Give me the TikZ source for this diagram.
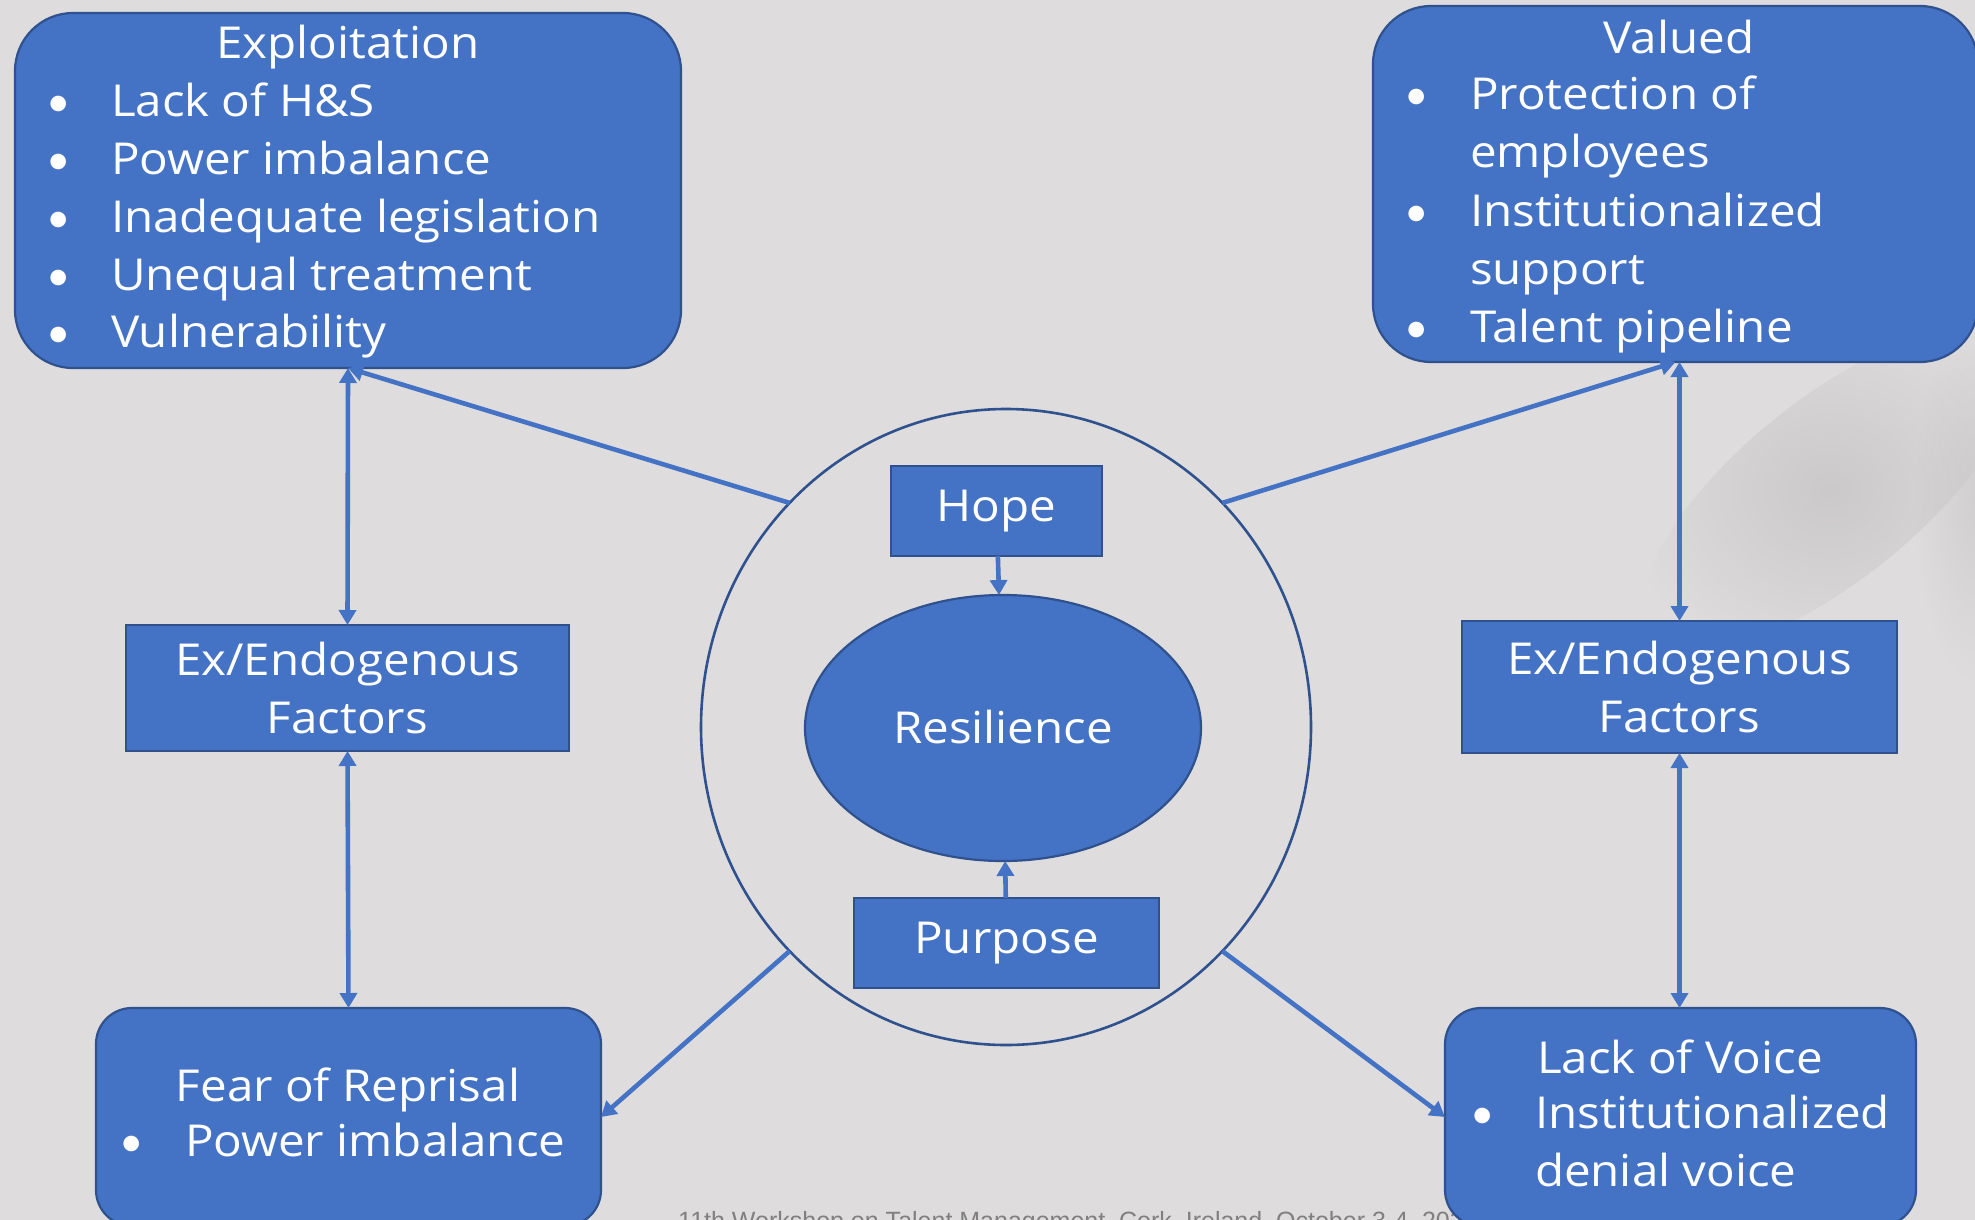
\documentclass[tikz,border=0pt]{standalone}
\usepackage{fontspec}
\setmainfont{Open Sans}[FakeStretch=1.08]
\newfontfamily\dotfont{Lato}
\newfontfamily\footfont{Liberation Sans}
\usetikzlibrary{positioning, arrows.meta, shapes.geometric, fadings}
\definecolor{boxblue}{RGB}{68,114,196}
\definecolor{edgeblue}{RGB}{47,82,143}
\definecolor{slide}{RGB}{222,220,220}
\definecolor{smudge}{RGB}{180,179,179}
\tikzfading[name=blur, inner color=transparent!0, outer color=transparent!100]

\begin{document}
\begin{tikzpicture}[x=0.5pt, y=-0.5pt,
    every node/.style={outer sep=0pt},
    bluebox/.style={draw=edgeblue, line width=1.1pt, fill=boxblue, text=white,
        font=\fontsize{22pt}{28pt}\selectfont, align=center, inner sep=0pt},
    bubble/.style={bluebox, rounded corners=#1},
    txt/.style={text=white, font=\fontsize{22pt}{28pt}\selectfont, inner sep=0pt},
    dot/.style={txt, font=\dotfont\fontsize{21pt}{28pt}\selectfont, anchor=base},
    link/.style={boxblue, line width=2.3pt, -{Triangle[width=8.5pt, length=7.5pt]}},
    twoway/.style={boxblue, line width=2.3pt,
        {Triangle[width=8.5pt, length=7.5pt]}-{Triangle[width=8.5pt, length=7.5pt]}}]

    % Slide background
    \useasboundingbox (0,0) rectangle (1975,1220);
    \clip (0,0) rectangle (1975,1220);
    \fill[slide] (0,0) rectangle (1975,1220);

    % Smudge on the right
    \begin{scope}[shift={(1830,490)}, rotate=39]
        \fill[smudge, fill opacity=0.45, path fading=blur] (0,0) ellipse [x radius=230, y radius=90];
    \end{scope}
    \fill[smudge, fill opacity=0.3, path fading=blur] (1975,500) ellipse [x radius=60, y radius=180];

    % Footer (partly hidden)
    \node[font=\footfont\fontsize{12.5pt}{15pt}\selectfont, text=black!50, anchor=base, inner sep=0pt]
        (foot) at (1078,1229) {11th Workshop on Talent Management, Cork, Ireland, October 3-4, 2022};

    % Centre: ring with Hope, Resilience, Purpose
    \node[ellipse, draw=edgeblue, line width=1.3pt, minimum width=305pt, minimum height=318pt] (ring) at (1006,727) {};
    \node[ellipse, bluebox, minimum width=198pt, minimum height=133pt] (resil) at (1003,728) {\raisebox{1.2pt}{Resilience}};
    \node[bluebox, minimum width=105.5pt, minimum height=45pt] (hope) at (996.5,511) {\raisebox{-2.2pt}{Hope}};
    \node[bluebox, minimum width=152.5pt, minimum height=45pt] (purpose) at (1006.5,943) {\raisebox{-2.2pt}{Purpose}};

    % Left column
    \node[bubble=29pt, minimum width=333pt, minimum height=177.5pt] (exploit) at (348,190.5) {};
    \node[txt, anchor=base] (extitle) at (348,59) {Exploitation};
    \foreach \y/\t [count=\i] in {117/Lack of H\&S, 175/Power imbalance, 232/Inadequate legislation,
                                  290/Unequal treatment, 347/Vulnerability} {
        \node[dot] (exdot\i) at (59,\y) {\textbullet};
        \node[txt, anchor=base west] (exitem\i) at (111,\y) {\t};
    }
    \node[bluebox, minimum width=221.5pt, minimum height=63pt] (leftfac) at (347.5,688) {\shortstack{Ex/Endogenous\\[5.3pt]Factors}};
    \node[bubble=18pt, minimum width=252.5pt, minimum height=109pt] (fear) at (348.5,1117) {};
    \node[txt, anchor=base] (feartitle) at (348,1101) {Fear of Reprisal};
    \node[dot] (feardot) at (132,1156) {\textbullet};
    \node[txt, anchor=base west] (fearitem) at (185,1156) {Power imbalance};

    % Right column
    \node[bubble=29pt, minimum width=302.5pt, minimum height=178pt] (valued) at (1675.5,184) {};
    \node[txt, anchor=base] (valtitle) at (1679,54) {Valued};
    \foreach \y/\t [count=\i] in {110/Protection of, 168/employees, 226/Institutionalized,
                                  284/support, 342/Talent pipeline} {
        \node[txt, anchor=base west] (valitem\i) at (1470,\y) {\t};
    }
    \foreach \y [count=\i] in {110, 226, 342}
        \node[dot] (valdot\i) at (1417,\y) {\textbullet};
    \node[bluebox, minimum width=217.5pt, minimum height=66pt] (rightfac) at (1679.5,687) {\shortstack{Ex/Endogenous\\[5.3pt]Factors}};
    \node[bubble=18pt, minimum width=235.5pt, minimum height=109pt] (voice) at (1680.5,1117) {};
    \node[txt, anchor=base] (voicetitle) at (1680,1073) {Lack of Voice};
    \node[dot] (voicedot) at (1483,1128) {\textbullet};
    \node[txt, anchor=base west] (voiceitem1) at (1535,1128) {Institutionalized};
    \node[txt, anchor=base west] (voiceitem2) at (1535,1186) {denial voice};

    % Connectors
    \draw[link] (hope) -- (resil);
    \draw[link] (purpose) -- (resil);
    \draw[link] (ring.134) -- (exploit.south);
    \draw[link] (ring.46) -- (valued.south);
    \draw[link] (ring.226) -- (fear.east);
    \draw[link] (ring.314) -- (voice.west);
    \draw[twoway] (exploit.south) -- (leftfac.north);
    \draw[twoway] (leftfac.south) -- (fear.north);
    \draw[twoway] (rightfac.north |- valued.south) -- (rightfac.north);
    \draw[twoway] (rightfac.south) -- (rightfac.south |- voice.north);
\end{tikzpicture}
\end{document}
